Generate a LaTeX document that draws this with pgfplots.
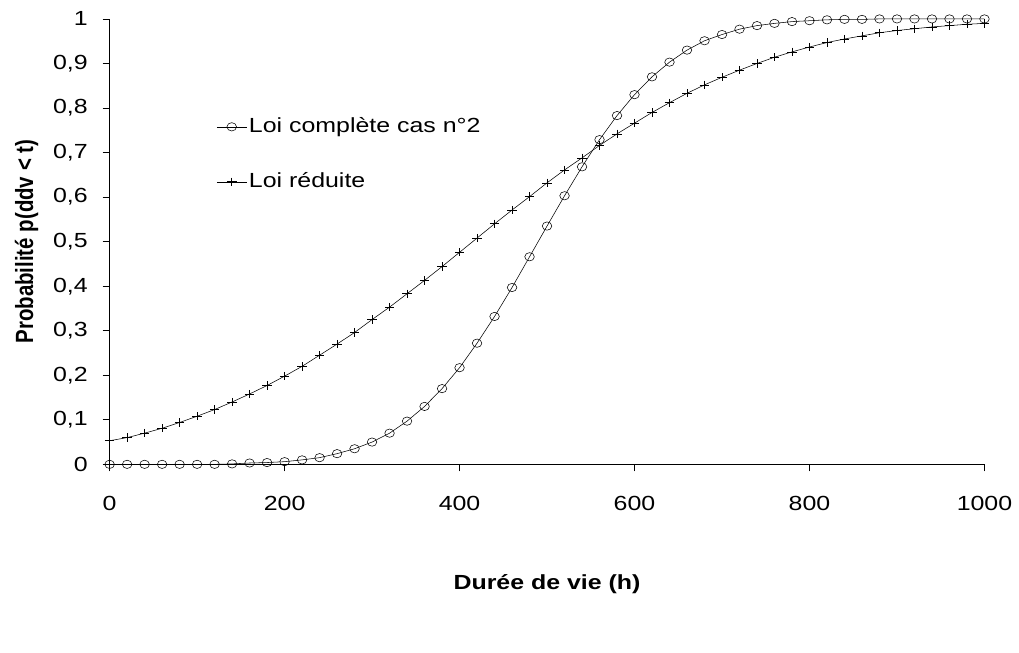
\documentclass[border=0pt]{standalone}
\usepackage{pgfplots}
\pgfplotsset{compat=1.18}
\usepackage{fontspec}
\setmainfont{Liberation Sans}[FakeStretch=1.22]
\newfontfamily\ylabfont{Liberation Sans}[FakeStretch=0.82]
\newcommand{\chartfont}{\fontsize{20.5bp}{24bp}\selectfont}
\begin{document}
\chartfont
\begin{tikzpicture}
\begin{axis}[
  scale only axis,
  width=878bp, height=447bp,
  xmin=0, xmax=1000, ymin=0, ymax=1,
  axis x line=bottom, axis y line=left,
  axis line style={-, line width=0.8pt},
  xtick={0,200,...,1000},
  ytick={0,0.1,...,1.0},
  tick align=outside,
  major tick length=7bp,
  tick style={black, line width=0.6pt},
  /pgf/number format/use comma,
  /pgf/number format/assume math mode=true,
  /pgf/number format/1000 sep={},
  yticklabel style={/pgf/number format/fixed, /pgf/number format/precision=1, xshift=-8bp},
  xticklabel style={yshift=-18bp},
  ticklabel style={font=\chartfont},
  xlabel={\textbf{Durée de vie (h)}},
  ylabel={\ylabfont\fontsize{25bp}{28bp}\selectfont\textbf{Probabilité p(ddv < t)}},
  label style={font=\chartfont},
  xlabel style={yshift=-50bp},
  ylabel style={yshift=1bp},
  legend style={at={(0.122,0.783)}, anchor=north west, draw=none, fill=none,
    font=\chartfont, row sep=33bp,
    inner sep=0pt},
  legend image code/.code={
    \draw[mark repeat=2, mark phase=2, #1] plot coordinates {(0bp,0bp) (15bp,0bp) (30bp,0bp)};
  },
  legend cell align=left,
  every axis plot/.append style={line width=0.55pt, black},
]
\addplot[mark=o, mark size=4.8bp, mark options={line width=0.55pt, yscale=0.87}] coordinates {
(0,0) (20,0) (40,0) (60,0) (80,0) (100,0) (120,0) (140,0.001)
(160,0.003) (180,0.004) (200,0.006) (220,0.010) (240,0.015) (260,0.024)
(280,0.035) (300,0.050) (320,0.070) (340,0.097) (360,0.130) (380,0.170)
(400,0.217) (420,0.272) (440,0.332) (460,0.397) (480,0.466) (500,0.535)
(520,0.603) (540,0.668) (560,0.729) (580,0.783) (600,0.830) (620,0.870)
(640,0.903) (660,0.930) (680,0.951) (700,0.965) (720,0.977) (740,0.985)
(760,0.990) (780,0.994) (800,0.996) (820,0.998) (840,0.999) (860,0.999)
(880,1.0) (900,1.0) (920,1.0) (940,1.0) (960,1.0) (980,1.0) (1000,1.0)
};
\addlegendentry{Loi complète cas n°2}
\addplot[mark=+, mark size=4.8bp, mark options={line width=0.65pt, yscale=0.87}] coordinates {
(0,0.053) (20,0.060) (40,0.070) (60,0.081) (80,0.094) (100,0.108)
(120,0.123) (140,0.140) (160,0.158) (180,0.177) (200,0.198) (220,0.220)
(240,0.245) (260,0.270) (280,0.296) (300,0.325) (320,0.353) (340,0.383)
(360,0.413) (380,0.444) (400,0.476) (420,0.508) (440,0.540) (460,0.571)
(480,0.601) (500,0.632) (520,0.661) (540,0.688) (560,0.716) (580,0.742)
(600,0.766) (620,0.790) (640,0.812) (660,0.833) (680,0.852) (700,0.869)
(720,0.885) (740,0.900) (760,0.914) (780,0.926) (800,0.937) (820,0.947)
(840,0.955) (860,0.962) (880,0.969) (900,0.974) (920,0.978) (940,0.982)
(960,0.985) (980,0.988) (1000,0.990)
};
\addlegendentry{Loi réduite}
\end{axis}
\path ([xshift=-110bp,yshift=-189bp]current axis.south west) rectangle ([xshift=31bp,yshift=19bp]current axis.north east);
\end{tikzpicture}
\end{document}
